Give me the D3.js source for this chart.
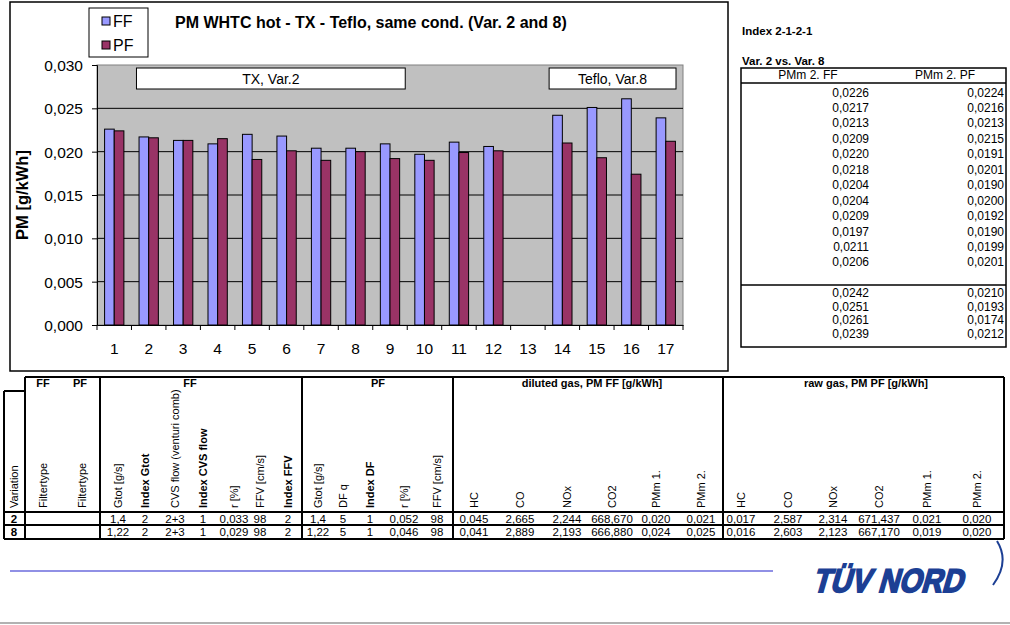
<!DOCTYPE html>
<html><head><meta charset="utf-8">
<script src="https://cdn.jsdelivr.net/npm/d3@7"></script>
<style>body{margin:0;background:#fff;}svg{display:block;font-family:"Liberation Sans",Arial,sans-serif;}</style>
</head><body>
<svg id="c" width="1010" height="625"></svg>
<script>
const categories = ["1","2","3","4","5","6","7","8","9","10","11","12","13","14","15","16","17"];
const ffValues = [0.0226,0.0217,0.0213,0.0209,0.0220,0.0218,0.0204,0.0204,0.0209,0.0197,0.0211,0.0206,null,0.0242,0.0251,0.0261,0.0239];
const pfValues = [0.0224,0.0216,0.0213,0.0215,0.0191,0.0201,0.0190,0.0200,0.0192,0.0190,0.0199,0.0201,null,0.0210,0.0193,0.0174,0.0212];
const seriesNames = ["FF","PF"];
const yTicks = [0,0.005,0.010,0.015,0.020,0.025,0.030];
const title = "PM WHTC hot - TX - Teflo, same cond. (Var. 2 and 8)";
const yLabel = "PM [g/kWh]";
const groupNotes = [{text:"TX, Var.2", from:"2", to:"10"},{text:"Teflo, Var.8", from:"14", to:"17"}];
const sideTitle1 = "Index 2-1-2-1";
const sideTitle2 = "Var. 2 vs. Var. 8";
const sideHeaders = ["PMm 2. FF","PMm 2. PF"];
const tableGroups = ["FF","PF","FF","PF","diluted gas, PM FF [g/kWh]","raw gas, PM PF [g/kWh]"];
const tableCols = ["Variation","Filtertype","Filtertype","Gtot [g/s]","Index Gtot","CVS flow (venturi comb)","Index CVS flow","r [%]","FFV [cm/s]","Index FFV","Gtot [g/s]","DF q","Index DF","r [%]","FFV [cm/s]","HC","CO","NOx","CO2","PMm 1.","PMm 2.","HC","CO","NOx","CO2","PMm 1.","PMm 2."];
const tableRow2 = ["2","","","1,4","2","2+3","1","0,033","98","2","1,4","5","1","0,052","98","0,045","2,665","2,244","668,670","0,020","0,021","0,017","2,587","2,314","671,437","0,021","0,020"];
const tableRow8 = ["8","","","1,22","2","2+3","1","0,029","98","2","1,22","5","1","0,046","98","0,041","2,889","2,193","666,880","0,024","0,025","0,016","2,603","2,123","667,170","0,019","0,020"];
const logoText = "TÜV NORD";

const colors = {FF:"#9999ff", PF:"#993366"};
const svg = d3.select("#c");
const fmt = v => d3.format(".3f")(v).replace(".",",");
const fmt4 = v => d3.format(".4f")(v).replace(".",",");

// outer chart frame
svg.append("rect").attr("x",10).attr("y",2).attr("width",718).attr("height",369)
  .attr("fill","#fff").attr("stroke","#000").attr("stroke-width",1.5);

const x = d3.scaleBand().domain(categories).range([97,683]).paddingInner(0).paddingOuter(0);
const y = d3.scaleLinear().domain([0,0.030]).range([325,65]);

// plot area
svg.append("rect").attr("x",97).attr("y",65).attr("width",586).attr("height",260)
  .attr("fill","#c0c0c0").attr("stroke","#808080").attr("stroke-width",1);
svg.append("g").selectAll("line").data(yTicks.filter(t=>t>0 && t<0.030)).join("line")
  .attr("x1",97).attr("x2",683).attr("y1",d=>y(d)).attr("y2",d=>y(d))
  .attr("stroke","#000").attr("stroke-width",1);

// note boxes
groupNotes.forEach(n=>{
  const x0 = n.text.startsWith("TX") ? x(n.from)+5 : x(n.from)+4;
  const x1 = n.text.startsWith("TX") ? x(n.to)-2 : x(n.to)+x.bandwidth()-7;
  const g = svg.append("g");
  g.append("rect").attr("x",x0).attr("y",68).attr("width",x1-x0).attr("height",21)
    .attr("fill","#fff").attr("stroke","#000").attr("stroke-width",1);
  g.append("text").attr("x",(x0+x1)/2).attr("y",84).attr("text-anchor","middle")
    .attr("font-size",14).text(n.text);
});

// bars
const bw = x.bandwidth()*0.28;
const barData = [];
categories.forEach((c,i)=>{
  if(ffValues[i]!=null) barData.push({c, s:"FF", v:ffValues[i], off:0});
  if(pfValues[i]!=null) barData.push({c, s:"PF", v:pfValues[i], off:1});
});
svg.append("g").selectAll("rect").data(barData).join("rect")
  .attr("x",d=>x(d.c)+x.bandwidth()/2-bw+d.off*bw)
  .attr("y",d=>y(d.v)).attr("width",bw).attr("height",d=>y(0)-y(d.v))
  .attr("fill",d=>colors[d.s]).attr("stroke","#000").attr("stroke-width",1);

// axes
const yAxis = d3.axisLeft(y).tickValues(yTicks).tickSize(5).tickFormat(fmt);
const gy = svg.append("g").attr("transform","translate(97,0)").call(yAxis);
gy.select(".domain").attr("stroke","#000");
gy.selectAll("text").attr("font-size",15.5).attr("fill","#000").attr("x",-14).attr("dy","0.35em");
gy.selectAll(".tick line").attr("stroke","#000");

const xAxis = d3.axisBottom(x).tickSize(0).tickSizeOuter(0);
const gx = svg.append("g").attr("transform","translate(0,325)").call(xAxis);
gx.select(".domain").attr("stroke","#000");
gx.selectAll("text").attr("font-size",15.5).attr("fill","#000").attr("y",29).attr("dy",0);
svg.append("g").selectAll("line").data(categories.concat(["end"])).join("line")
  .attr("x1",(d,i)=>i<categories.length?x(d):x(categories[categories.length-1])+x.bandwidth())
  .attr("x2",(d,i)=>i<categories.length?x(d):x(categories[categories.length-1])+x.bandwidth())
  .attr("y1",325).attr("y2",330).attr("stroke","#000");

// y label
svg.append("text").attr("transform","translate(28,195) rotate(-90)").attr("text-anchor","middle")
  .attr("font-size",16.5).attr("font-weight","bold").text(yLabel);

// title
svg.append("text").attr("x",175).attr("y",28).attr("font-size",16).attr("font-weight","bold").text(title);

// legend
const lg = svg.append("g");
lg.append("rect").attr("x",89).attr("y",8).attr("width",59).attr("height",49).attr("fill","#fff").attr("stroke","#000");
seriesNames.forEach((s,i)=>{
  lg.append("rect").attr("x",102).attr("y",17+i*24).attr("width",8).attr("height",8)
    .attr("fill",colors[s]).attr("stroke","#000").attr("stroke-width",1);
  lg.append("text").attr("x",113).attr("y",27+i*24).attr("font-size",16).text(s);
});

// side table
svg.append("text").attr("x",742).attr("y",35).attr("font-size",11.5).attr("font-weight","bold").text(sideTitle1);
svg.append("text").attr("x",742).attr("y",65).attr("font-size",11.5).attr("font-weight","bold").text(sideTitle2);
svg.append("rect").attr("x",741).attr("y",68).attr("width",265).attr("height",279)
  .attr("fill","none").attr("stroke","#000").attr("stroke-width",1.5);
svg.append("line").attr("x1",741).attr("x2",1006).attr("y1",83).attr("y2",83).attr("stroke","#000").attr("stroke-width",1.5);
svg.append("line").attr("x1",741).attr("x2",1006).attr("y1",285).attr("y2",285).attr("stroke","#000").attr("stroke-width",1.5);
svg.append("text").attr("x",808).attr("y",79).attr("text-anchor","middle").attr("font-size",12).text(sideHeaders[0]);
svg.append("text").attr("x",945).attr("y",79).attr("text-anchor","middle").attr("font-size",12).text(sideHeaders[1]);
const rowsY = categories.map((c,i)=> i<12 ? 96.5+i*15.45 : 297+(i-13)*13.6);
categories.forEach((c,i)=>{
  if(ffValues[i]==null) return;
  svg.append("text").attr("x",869).attr("y",rowsY[i]).attr("text-anchor","end").attr("font-size",12).text(fmt4(ffValues[i]));
  svg.append("text").attr("x",1004).attr("y",rowsY[i]).attr("text-anchor","end").attr("font-size",12).text(fmt4(pfValues[i]));
});

// bottom table
const colX = [14,43,82,118,145,175,203,234,260,288,318,343,370,404,437,474,520,567,612,656,701,741,788,833,879,927,977];
const boldCols = new Set([4,6,9,12]);
const T = svg.append("g");
const ln = (x1,y1,x2,y2,w=2)=>T.append("line").attr("x1",x1).attr("y1",y1).attr("x2",x2).attr("y2",y2).attr("stroke","#000").attr("stroke-width",w);
ln(25,377,1004,377);
ln(4,391,25,391);
[25,100,302,453,723,1004].forEach(v=>ln(v,377,v,539));
ln(4,391,4,539);
[512,525,539].forEach(v=>ln(4,v,1004,v));
const groupX = [43,80,190,378,592,866];
tableGroups.forEach((g,i)=>T.append("text").attr("x",groupX[i]).attr("y",387).attr("text-anchor","middle")
  .attr("font-size",11).attr("font-weight","bold").text(g));
tableCols.forEach((c,i)=>T.append("text").attr("transform",`translate(${colX[i]+4},508) rotate(-90)`)
  .attr("font-size",11).attr("font-weight",boldCols.has(i)?"bold":"normal").text(c));
[tableRow2,tableRow8].forEach((row,r)=>{
  row.forEach((v,i)=>T.append("text").attr("x",colX[i]).attr("y",522.5+r*13.5).attr("text-anchor","middle")
    .attr("font-size",11.5).attr("font-weight",i===0?"bold":"normal").text(v));
});

// footer
svg.append("line").attr("x1",10).attr("x2",773).attr("y1",571).attr("y2",571).attr("stroke","#2323cc").attr("stroke-width",1.2);
svg.append("line").attr("x1",0).attr("x2",1010).attr("y1",623).attr("y2",623).attr("stroke","#999").attr("stroke-width",1.5);
svg.append("g").attr("transform","translate(812,592) skewX(-16)")
  .append("text").attr("x",0).attr("y",0).attr("font-size",33).attr("font-weight","bold")
  .attr("fill","#1c3f94").attr("stroke","#1c3f94").attr("stroke-width",1.8)
  .attr("textLength",150).attr("lengthAdjust","spacingAndGlyphs").text(logoText);
svg.append("path").attr("d","M997,541 Q1010,562 993,585").attr("fill","none").attr("stroke","#1c3f94").attr("stroke-width",2);
</script>
</body></html>
